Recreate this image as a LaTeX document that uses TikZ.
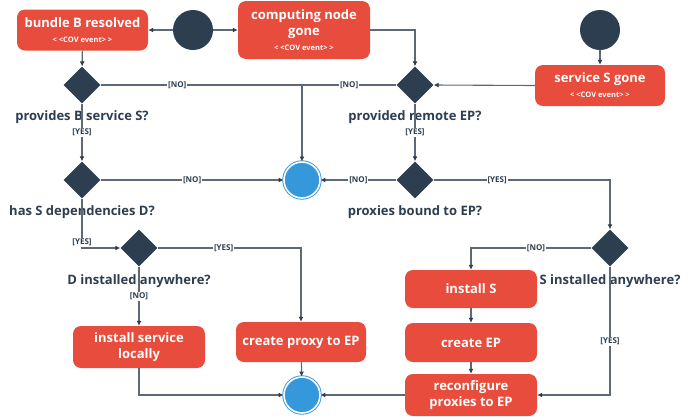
\documentclass[tikz,border=0pt]{standalone}
\usepackage{fontspec}
\setmainfont{Open Sans}
\usetikzlibrary{arrows.meta,positioning,shapes.geometric}
\definecolor{Coral}{HTML}{E74C3C}
\definecolor{Navy}{HTML}{2C3E50}
\definecolor{Sky}{HTML}{3498DB}
\definecolor{Wire}{HTML}{5D6975}
\newcommand{\covtag}{{\fontsize{7.5}{8}\selectfont < <COV event> >}}

\begin{document}
\begin{tikzpicture}[x=1pt, y=-1pt,
    act/.style={fill=Coral, rounded corners=8pt, text=white, align=center, inner sep=0pt,
      minimum width=131pt, minimum height=41pt, font=\bfseries\fontsize{13}{16}\selectfont},
    decision/.style={diamond, fill=Navy, minimum width=37pt, minimum height=37pt, inner sep=0pt},
    startnode/.style={circle, fill=Navy, minimum size=40pt, inner sep=0pt},
    endnode/.style={circle, fill=Sky, draw=Sky, line width=0.9pt, double=white, double distance=1.6pt,
      minimum size=36pt, inner sep=0pt},
    ask/.style={text=Navy, inner sep=0pt, font=\bfseries\fontsize{13}{15}\selectfont},
    el/.style={fill=white, text=Navy, inner sep=1pt, font=\bfseries\fontsize{8}{9}\selectfont},
    wire/.style={draw=Wire, line width=1.1pt},
    flow/.style={wire, -{Latex[length=5pt, width=5pt, color=Navy]}}]
    \useasboundingbox (0,0) rectangle (691,416);
    % start events
    \node[startnode] (s1) at (193,30) {};
    \node[startnode] (s2) at (600,30) {};
    \node[act] (bB) at (82.5,30) {bundle B resolved\\[-1pt]\covtag};
    \node[act, minimum width=132pt, minimum height=58pt] (cng) at (304,30) {computing node\\ gone\\[-1pt]\covtag};
    \node[act, minimum width=130pt] (sSg) at (600,85.5) {service S gone\\[-1pt]\covtag};
    % decisions
    \node[decision] (d1) at (82,85) {};
    \node[decision] (d2) at (415,85) {};
    \node[decision] (d3) at (82,180) {};
    \node[decision] (d4) at (139,248) {};
    \node[decision] (d5) at (415,180) {};
    \node[decision] (d6) at (610,248) {};
    \node[ask, below=7pt of d1] (q1) {provides B service S?};
    \node[ask, below=7pt of d2] (q2) {provided remote EP?};
    \node[ask, below=7pt of d3] (q3) {has S dependencies D?};
    \node[ask, below=8pt of d4] (q4) {D installed anywhere?};
    \node[ask, below=7pt of d5] (q5) {proxies bound to EP?};
    \node[ask, below=8pt of d6] (q6) {S installed anywhere?};
    % end states
    \node[endnode] (f1) at (302,180) {};
    \node[endnode] (f2) at (302,395) {};
    % actions
    \node[act, minimum width=132pt, minimum height=42pt] (isl) at (139,347) {install service\\ locally};
    \node[act, minimum width=130pt, minimum height=40pt] (cp) at (301,342) {create proxy to EP};
    \node[act, minimum width=132pt, minimum height=38pt] (iS) at (471,289) {install S};
    \node[act, minimum width=132pt, minimum height=39pt] (cEP) at (471,342.5) {create EP};
    \node[act, minimum width=132pt, minimum height=42pt] (rEP) at (471,395) {reconfigure\\ proxies to EP};
    % connectors
    \draw[flow] (s1) -- (bB);
    \draw[flow] (s1) -- (cng);
    \draw[flow] (s2) -- (sSg);
    \draw[flow] (bB) -- (d1);
    \draw[flow] (cng.east) -| (d2.north);
    \draw[flow] (sSg.west) -- (d2.east);
    \draw[flow] (d1.east) -- node[el, pos=0.38]{[NO]} (d1.east -| f1) -- (f1.north);
    \draw[wire] (d2.west) -- node[el]{[NO]} (d2.west -| f1);
    \draw[flow] (d1.south) -- node[el]{[YES]} (d3.north);
    \draw[flow] (d2.south) -- node[el]{[YES]} (d5.north);
    \draw[flow] (d3.east) -- node[el]{[NO]} (f1.west);
    \draw[flow] (d5.west) -- node[el]{[NO]} (f1.east);
    \draw[flow] (d3.south) |- node[el, pos=0.44]{[YES]} (d4.west);
    \draw[flow] (d4.east) -| node[el, pos=0.23]{[YES]} (cp.north);
    \draw[flow] (d4.south) -- node[el]{[NO]} (isl.north);
    \draw[flow] (d5.east) -| node[el, pos=0.18]{[YES]} (d6.north);
    \draw[flow] (d6.west) -| node[el, pos=0.23]{[NO]} (iS.north);
    \draw[flow] (d6.south) |- node[el, pos=0.29]{[YES]} (rEP.east);
    \draw[flow] (iS) -- (cEP);
    \draw[flow] (cEP) -- (rEP);
    \draw[flow] (isl.south) |- (f2.west);
    \draw[flow] (cp) -- (f2);
    \draw[flow] (rEP.west) -- (f2.east);
\end{tikzpicture}
\end{document}
